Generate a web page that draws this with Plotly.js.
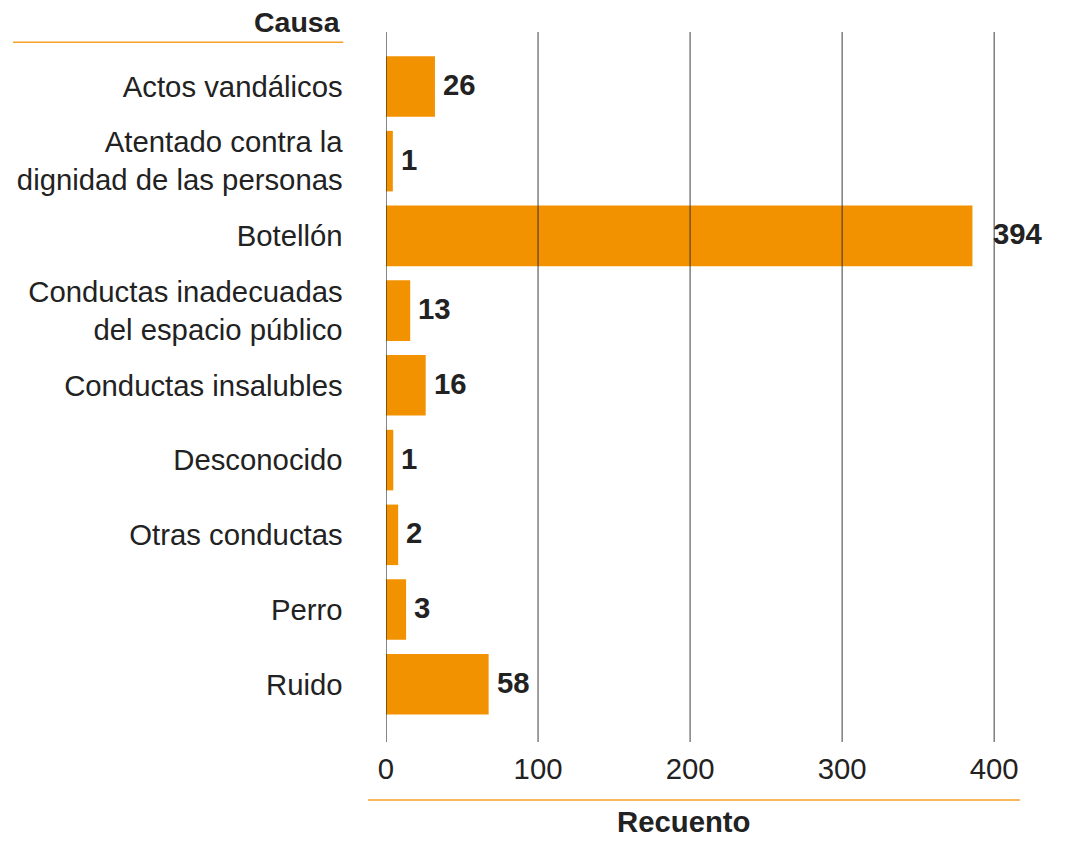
<!DOCTYPE html>
<html>
<head>
<meta charset="utf-8">
<script src="https://cdn.plot.ly/plotly-3.0.1.min.js"></script>
<style>html,body{margin:0;padding:0;background:#fff;}#chart{width:1075px;height:841px;}</style>
</head>
<body>
<div id="chart"></div>
<script>
// Categories (top to bottom)
const categories = [
  'Actos vandálicos',
  'Atentado contra la<br>dignidad de las personas',
  'Botellón',
  'Conductas inadecuadas<br>del espacio público',
  'Conductas insalubles',
  'Desconocido',
  'Otras conductas',
  'Perro',
  'Ruido'
];
// Bar lengths as drawn in the reference
const barLengths = [32.2, 4.5, 385.7, 15.9, 26.1, 4.8, 8.0, 13.2, 67.5];
// Printed value labels
const valueLabels = [26, 1, 394, 13, 16, 1, 2, 3, 58];
// X tick values
const xTicks = [0, 100, 200, 300, 400];

const FONT = '"Liberation Sans", Arial, Helvetica, sans-serif';
const FS = 29.3;
const TEXT = '#222222';
const BAR = '#F29200';
const LINE = '#F4A226';

const trace = {
  type: 'bar',
  orientation: 'h',
  y: categories,
  x: barLengths,
  marker: {color: BAR, line: {width: 0}},
  width: 0.81,
  hoverinfo: 'skip'
};

const shapes = xTicks.map(v => ({
  type: 'line', xref: 'x', yref: 'paper',
  x0: v, x1: v, y0: 0, y1: 1,
  line: {color: v === 0 ? 'rgba(30,30,30,0.9)' : 'rgba(40,40,40,0.75)', width: 1.2},
  layer: 'above'
}));
// orange rules under the axis titles
shapes.push({type: 'line', xref: 'paper', yref: 'paper', x0: -0.5575, x1: -0.0638, y0: 0.9855, y1: 0.9855, line: {color: LINE, width: 1.5}});
shapes.push({type: 'line', xref: 'paper', yref: 'paper', x0: -0.0269, x1: 0.9477, y0: -0.0817, y1: -0.0817, line: {color: LINE, width: 1.5}});

const annotations = categories.map((c, i) => ({
  x: Math.max(barLengths[i], valueLabels[i]), y: c,
  xref: 'x', yref: 'y',
  text: '<b>' + valueLabels[i] + '</b>',
  showarrow: false, xanchor: 'left', yanchor: 'middle',
  xshift: 6, yshift: 2,
  font: {family: FONT, size: FS, color: TEXT}
}));
annotations.push({
  x: -0.065, y: 1.0141, xref: 'paper', yref: 'paper',
  text: '<b>Causa</b>', showarrow: false, xanchor: 'right', yanchor: 'middle',
  font: {family: FONT, size: FS - 0.8, color: TEXT}
});
annotations.push({
  x: 0.445, y: -0.1115, xref: 'paper', yref: 'paper',
  text: '<b>Recuento</b>', showarrow: false, xanchor: 'center', yanchor: 'middle',
  font: {family: FONT, size: FS, color: TEXT}
});

const layout = {
  width: 1075, height: 841,
  margin: {l: 386, r: 20, t: 32, b: 99, pad: 0},
  paper_bgcolor: '#ffffff', plot_bgcolor: '#ffffff',
  showlegend: false,
  font: {family: FONT, size: FS, color: TEXT},
  xaxis: {
    range: [0, 440], tickvals: xTicks, ticktext: xTicks.map(String),
    showgrid: false, zeroline: false, showline: false,
    ticks: 'outside', ticklen: 1, tickcolor: 'rgba(0,0,0,0)',
    tickfont: {family: FONT, size: FS, color: TEXT},
    fixedrange: true
  },
  yaxis: {
    type: 'category', categoryorder: 'array', categoryarray: categories,
    range: [8.772, -0.728],
    showgrid: false, zeroline: false, showline: false,
    ticks: 'outside', ticklen: 36.5, tickcolor: 'rgba(0,0,0,0)',
    tickfont: {family: FONT, size: FS, color: TEXT},
    fixedrange: true
  },
  shapes: shapes,
  annotations: annotations
};

Plotly.newPlot('chart', [trace], layout, {displayModeBar: false, staticPlot: true});
</script>
</body>
</html>
